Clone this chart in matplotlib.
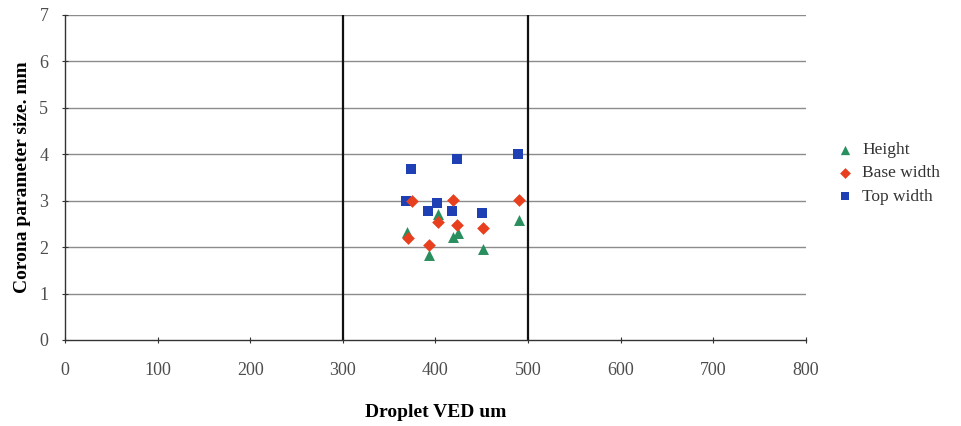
import matplotlib
matplotlib.use("Agg")
import matplotlib.pyplot as plt

# Droplet volume-equivalent diameter (um) and corona parameter sizes (mm)
height_x = [369, 403, 419, 424, 393, 451, 490]
height_y = [2.33, 2.71, 2.22, 2.30, 1.83, 1.97, 2.58]

base_x = [375, 419, 490, 403, 423, 451, 370, 393]
base_y = [2.99, 3.01, 3.01, 2.55, 2.48, 2.41, 2.19, 2.04]

top_x = [374, 423, 489, 368, 402, 392, 418, 450]
top_y = [3.68, 3.89, 4.00, 2.99, 2.94, 2.77, 2.77, 2.74]

x_ticks = [0, 100, 200, 300, 400, 500, 600, 700, 800]
y_ticks = [0, 1, 2, 3, 4, 5, 6, 7]
boundaries = [300, 500]

plt.rcParams["font.family"] = ["Liberation Serif", "DejaVu Serif"]

fig = plt.figure(figsize=(9.61, 4.26), dpi=100)
ax = fig.add_axes([0.0676, 0.2019, 0.7711, 0.7629])

ax.set_xlim(0, 800)
ax.set_ylim(0, 7)
ax.set_xticks(x_ticks)
ax.set_yticks(y_ticks)

for y in y_ticks[1:]:
    ax.axhline(y, color="#8c8c8c", lw=1.0, zorder=1)
for xb in boundaries:
    ax.axvline(xb, color="#111111", lw=1.6, zorder=2)

ax.scatter(height_x, height_y, marker="^", s=62, color="#2a8f5e",
           label="Height", zorder=4, linewidths=0)
ax.scatter(base_x, base_y, marker="D", s=42, color="#e8401e",
           label="Base width", zorder=5, linewidths=0)
ax.scatter(top_x, top_y, marker="s", s=56, color="#1f3fb4",
           label="Top width", zorder=3, linewidths=0)

for side in ("top", "right"):
    ax.spines[side].set_visible(False)
ax.spines["left"].set_color("#333333")
ax.spines["bottom"].set_color("#333333")
ax.spines["left"].set_linewidth(1.0)
ax.spines["bottom"].set_linewidth(1.0)

ax.tick_params(axis="both", labelsize=13, labelcolor="#4d4d4d",
               colors="#333333", direction="inout", length=4, width=0.8)
ax.tick_params(axis="x", pad=14)
ax.tick_params(axis="y", pad=10)

ax.set_xlabel("Droplet VED um", fontsize=14, fontweight="bold", labelpad=18)
ax.set_ylabel("Corona parameter size. mm", fontsize=14, fontweight="bold",
              labelpad=6)

ax.legend(loc="upper left", bbox_to_anchor=(1.02, 0.63), frameon=False,
          fontsize=12.5, handletextpad=0.0, labelspacing=0.4,
          markerscale=0.85, borderaxespad=0, labelcolor="#333333")

fig.savefig("out.png", dpi=100)
